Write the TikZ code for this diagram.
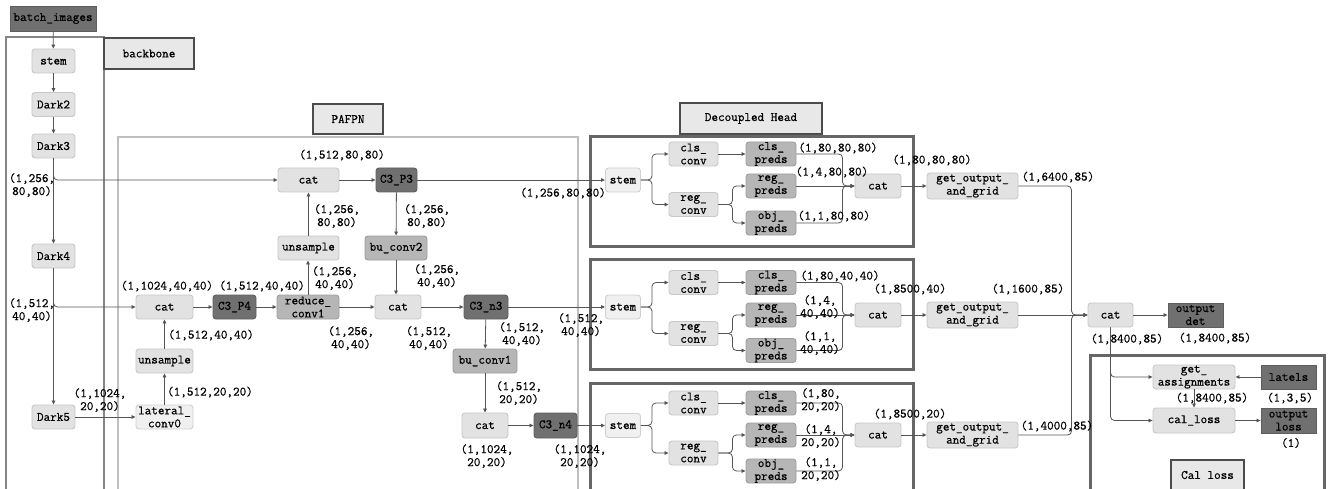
\documentclass[tikz,border=0pt]{standalone}
\usepackage{fontspec}
\newfontfamily\dimfont[FakeBold=0.7]{Latin Modern Mono}
\usetikzlibrary{arrows.meta}
\definecolor{cdark}{HTML}{707070}
\definecolor{cdarkb}{HTML}{5E5E5E}
\definecolor{cmed}{HTML}{B6B6B6}
\definecolor{cmedb}{HTML}{9E9E9E}
\definecolor{clt}{HTML}{E2E2E2}
\definecolor{cltb}{HTML}{C8C8C8}
\definecolor{cvl}{HTML}{F0F0F0}
\definecolor{cvlb}{HTML}{D0D0D0}
\definecolor{cline}{HTML}{555555}
\tikzset{
  tfont/.style={font=\dimfont\fontsize{12.8}{13}\selectfont},
  nb/.style={draw, rounded corners=3pt, inner sep=0pt, align=center, line width=0.9pt,
    tfont, text=black},
  lt/.style={nb, fill=clt, draw=cltb},
  vl/.style={nb, fill=cvl, draw=cvlb},
  md/.style={nb, fill=cmed, draw=cmedb},
  dk/.style={nb, fill=cdark, draw=cdarkb},
  dks/.style={dk, sharp corners},
  sz/.style 2 args={minimum width=#1pt, minimum height=#2pt},
  lab/.style={draw=black!70, fill=black!9, line width=1.2pt},
  labtxt/.style={inner sep=0pt, tfont},
  dim/.style={inner sep=0pt, align=center, tfont},
  arr/.style={draw=cline, line width=0.8pt, -{Triangle[length=4pt,width=3.6pt]}},
  rc/.style={rounded corners=4pt},
  frbb/.style={draw=black!48, line width=2pt},
  frpa/.style={draw=black!25, line width=2pt},
  frhd/.style={draw=black!60, line width=3pt},
}
\begin{document}
\begin{tikzpicture}[x=1pt, y=-1pt]
\useasboundingbox (0,0) rectangle (1332,489);
\clip (0,0) rectangle (1332,489);
\fill[white] (0,0) rectangle (1332,489);

% frames
\draw[frbb] (6,37) rectangle (104,495);
\draw[frpa] (118,137) rectangle (578,495);
\draw[frhd] (590,137) rectangle (913,246);
\draw[frhd] (590,259) rectangle (913,369);
\draw[frhd] (590,383) rectangle (913,495);
\draw[frhd] (1090,355) rectangle (1324,495);

% label boxes
\draw[lab] (104,38) rectangle (194,69);
\node[labtxt] (tbb) at (149,53.5) {backbone};
\draw[lab] (313,104) rectangle (383,134);
\node[labtxt] (tpa) at (348,119) {PAFPN};
\draw[lab] (680,103) rectangle (822,134);
\node[labtxt] (thd) at (751,118.5) {Decoupled Head};
\draw[lab] (1171,460) rectangle (1244,495);
\node[labtxt] (tcl) at (1207.5,475) {Cal loss};

% backbone
\node[dks, sz={86}{25}] (batch) at (53,18.5) {batch\_images};
\node[lt, sz={43}{24}] (bstem) at (53.5,61) {stem};
\node[lt, sz={43}{24}] (dark2) at (53.5,104.5) {Dark2};
\node[lt, sz={43}{24}] (dark3) at (53.5,146) {Dark3};
\node[lt, sz={43}{24}] (dark4) at (53.5,256) {Dark4};
\node[lt, sz={43}{24}] (dark5) at (53.5,417) {Dark5};

% PAFPN
\node[lt, sz={61}{24}] (catt) at (308.5,180) {cat};
\node[dk, sz={41}{24}] (c3p3) at (396.5,180) {C3\_P3};
\node[lt, sz={61}{24}] (unst) at (308.5,248) {unsample};
\node[md, sz={62}{24}] (buc2) at (396,248) {bu\_conv2};
\node[lt, sz={57}{24}] (catl) at (164.5,307) {cat};
\node[dk, sz={43}{24}] (c3p4) at (234.5,307) {C3\_P4};
\node[md, sz={62}{24}] (red1) at (308,307) {reduce\_\\conv1};
\node[lt, sz={46}{24}] (catm) at (398,307) {cat};
\node[dk, sz={44}{24}] (c3n3) at (486,307) {C3\_n3};
\node[lt, sz={57}{24}] (unsl) at (164.5,361) {unsample};
\node[vl, sz={57}{24}] (lat0) at (164.5,417) {lateral\_\\conv0};
\node[md, sz={64}{24}] (buc1) at (485,361) {bu\_conv1};
\node[lt, sz={46}{25}] (catb) at (485,425.5) {cat};
\node[dk, sz={43}{25}] (c3n4) at (555.5,425.5) {C3\_n4};

% heads
\foreach \i/\ys/\yc/\yr/\yrp/\yo in {1/180/154/204.5/186/223, 2/307/282.5/333.5/315/350.5, 3/425.5/403/453/435/471}{
  \node[vl, sz={35}{24}] (hs\i) at (623,\ys) {stem};
  \node[lt, sz={49}{24}] (cc\i) at (693.5,\yc) {cls\_\\conv};
  \node[lt, sz={49}{24}] (rc\i) at (693.5,\yr) {reg\_\\conv};
  \node[md, sz={50}{24}] (cp\i) at (771,\yc) {cls\_\\preds};
  \node[md, sz={50}{24}] (rp\i) at (771,\yrp) {reg\_\\preds};
  \node[md, sz={50}{24}] (op\i) at (771,\yo) {obj\_\\preds};
  \node[lt, sz={46}{24}] (hc\i) at (878,\yrp) {cat};
  \node[lt, sz={91}{26}] (go\i) at (972.5,\yrp) {get\_output\_\\and\_grid};
  \draw[arr, rc] (hs\i.east) -- ++(11,0) |- (cc\i.west);
  \draw[arr, rc] (hs\i.east) -- ++(11,0) |- (rc\i.west);
  \draw[arr] (cc\i) -- (cp\i);
  \draw[arr, rc] (rc\i.east) -- ++(14,0) |- (rp\i.west);
  \draw[arr, rc] (rc\i.east) -- ++(14,0) |- (op\i.west);
  \draw[arr, rc] (cp\i.east) -| ([xshift=-12pt]hc\i.west) -- (hc\i.west);
  \draw[arr, rc] (op\i.east) -| ([xshift=-12pt]hc\i.west) -- (hc\i.west);
  \draw[arr] (rp\i) -- (hc\i);
  \draw[arr] (hc\i) -- (go\i);
}

% final
\node[lt, sz={45}{24}] (catf) at (1110.5,315) {cat};
\node[dks, sz={55}{24}] (odet) at (1195.5,315) {output\\det};
\node[lt, sz={82}{24}] (gass) at (1194,377) {get\_\\assignments};
\node[dks, sz={55}{24}] (latl) at (1288.5,377) {latels};
\node[lt, sz={82}{25}] (call) at (1194,420.5) {cal\_loss};
\node[dks, sz={55}{25}] (oloss) at (1288.5,420.5) {output\\loss};

% backbone connectors
\draw[arr] (batch) -- (bstem);
\draw[arr] (bstem) -- (dark2);
\draw[arr] (dark2) -- (dark3);
\draw[arr] (dark3) -- (dark4);
\draw[arr] (dark4) -- (dark5);
\draw[arr, rc] (dark3.south) |- (catt.west);
\draw[arr, rc] (dark4.south) |- (catl.west);
\draw[arr] (dark5) -- (lat0);

% PAFPN connectors
\draw[arr] (lat0) -- (unsl);
\draw[arr] (unsl) -- (catl);
\draw[arr] (catl) -- (c3p4);
\draw[arr] (c3p4) -- (red1);
\draw[arr] (red1) -- (catm);
\draw[arr] (catm) -- (c3n3);
\draw[arr] (red1.north) -- (red1.north |- unst.south);
\draw[arr] (unst) -- (catt);
\draw[arr] (catt) -- (c3p3);
\draw[arr] (c3p3) -- (buc2);
\draw[arr] (buc2.south) -- (buc2.south |- catm.north);
\draw[arr] (c3n3) -- (buc1);
\draw[arr] (buc1) -- (catb);
\draw[arr] (catb) -- (c3n4);
\draw[arr] (c3p3) -- (hs1);
\draw[arr] (c3n3) -- (hs2);
\draw[arr] (c3n4) -- (hs3);

% final connectors
\draw[arr, rc] (go1.east) -| ([xshift=-16pt]catf.west) -- (catf.west);
\draw[arr] (go2) -- (catf);
\draw[arr, rc] (go3.east) -| ([xshift=-16pt]catf.west) -- (catf.west);
\draw[arr] (catf) -- (odet);
\draw[arr, rc] (catf.south) |- (gass.west);
\draw[arr, rc] (catf.south) |- (call.west);
\draw[arr] (latl) -- (gass);
\draw[arr] (gass) -- (call);
\draw[arr] (call) -- (oloss);

% dimension labels
\node[dim] (d1) at (32,185) {(1,256,\\80,80)};
\node[dim] (d2) at (32,310) {(1,512,\\40,40)};
\node[dim] (d3) at (100,400) {(1,1024,\\20,20)};
\node[dim] (d4) at (342,155) {(1,512,80,80)};
\node[dim] (d5) at (337,216) {(1,256,\\80,80)};
\node[dim] (d6) at (427,216) {(1,256,\\80,80)};
\node[dim] (d7) at (335,278) {(1,256,\\40,40)};
\node[dim] (d8) at (437,276) {(1,256,\\40,40)};
\node[dim] (d9) at (167,286) {(1,1024,40,40)};
\node[dim] (d10) at (262,286) {(1,512,40,40)};
\node[dim] (d11) at (211,335) {(1,512,40,40)};
\node[dim] (d12) at (210,392) {(1,512,20,20)};
\node[dim] (d13) at (351,338) {(1,256,\\40,40)};
\node[dim] (d14) at (429,338) {(1,512,\\40,40)};
\node[dim] (d15) at (522,334) {(1,512,\\40,40)};
\node[dim] (d16) at (519,393) {(1,512,\\20,20)};
\node[dim] (d17) at (487,456) {(1,1024,\\20,20)};
\node[dim] (d18) at (580,456) {(1,1024,\\20,20)};
\node[dim] (d19) at (563,193) {(1,256,80,80)};
\node[dim] (d20) at (581,325) {(1,512,\\40,40)};
\node[dim] (e1) at (838,148) {(1,80,80,80)};
\node[dim] (e2) at (832,172) {(1,4,80,80)};
\node[dim] (e3) at (834,216) {(1,1,80,80)};
\node[dim] (e4) at (932,160) {(1,80,80,80)};
\node[dim] (e5) at (1058,177) {(1,6400,85)};
\node[dim] (e6) at (840,276) {(1,80,40,40)};
\node[dim] (e7) at (820,307) {(1,4,\\40,40)};
\node[dim] (e8) at (820,343) {(1,1,\\40,40)};
\node[dim] (e9) at (910,289) {(1,8500,40)};
\node[dim] (e10) at (1028,289) {(1,1600,85)};
\node[dim] (e11) at (821,400) {(1,80,\\20,20)};
\node[dim] (e12) at (821,436) {(1,4,\\20,20)};
\node[dim] (e13) at (821,469) {(1,1,\\20,20)};
\node[dim] (e14) at (910,414) {(1,8500,20)};
\node[dim] (e15) at (1057,426) {(1,4000,85)};
\node[dim] (f1) at (1127,339) {(1,8400,85)};
\node[dim] (f2) at (1215,338) {(1,8400,85)};
\node[dim] (f3) at (1212,398) {(1,8400,85)};
\node[dim] (f4) at (1290,398) {(1,3,5)};
\node[dim] (f5) at (1291,443) {(1)};
\end{tikzpicture}
\end{document}
